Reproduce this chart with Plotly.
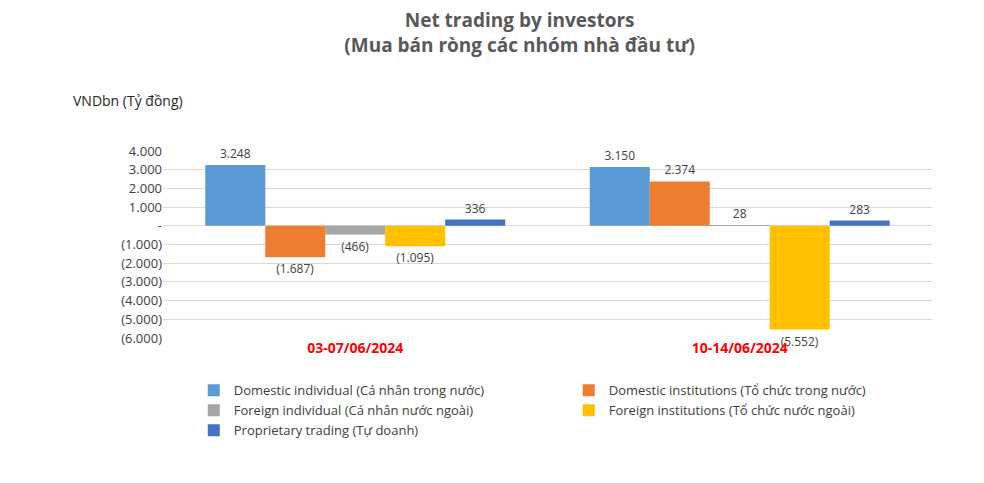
import plotly.graph_objects as go

periods = ["03-07/06/2024", "10-14/06/2024"]
series = [
    "Domestic individual (Cá nhân trong nước)",
    "Domestic institutions (Tổ chức trong nước)",
    "Foreign individual (Cá nhân nước ngoài)",
    "Foreign institutions (Tổ chức nước ngoài)",
    "Proprietary trading (Tự doanh)",
]
values = [
    [3248, 3150],
    [-1687, 2374],
    [-466, 28],
    [-1095, -5552],
    [336, 283],
]
colors = ["#5B9BD5", "#ED7D31", "#A5A5A5", "#FFC000", "#4472C4"]
tick_vals = [4000, 3000, 2000, 1000, 0, -1000, -2000, -3000, -4000, -5000, -6000]

def fmt(v):
    if v == 0:
        return "-"
    s = f"{abs(v):,}".replace(",", ".")
    return f"({s})" if v < 0 else s

fig = go.Figure()
for name, vals, c in zip(series, values, colors):
    fig.add_bar(x=periods, y=vals, name=name, marker=dict(color=c, line=dict(width=0)),
                text=[fmt(v) for v in vals], textposition="outside",
                textfont=dict(size=12, color="#404040"), cliponaxis=False)

fig.update_layout(
    width=984, height=483, plot_bgcolor="white", paper_bgcolor="white",
    font=dict(family="Open Sans", size=12, color="#404040"),
    title=dict(text="<b>Net trading by investors<br>(Mua bán ròng các nhóm nhà đầu tư)</b>",
               x=0.52, xanchor="center", y=0.96, font=dict(size=19, color="#595959")),
    margin=dict(l=155, r=60, t=143, b=153),
    barmode="group", bargap=0.22, bargroupgap=0,
    showlegend=True,
    legend=dict(orientation="h", x=0.04, y=-0.2, xanchor="left", yanchor="top",
                entrywidth=330, entrywidthmode="pixels",
                font=dict(size=13, color="#404040"), traceorder="normal"),
    annotations=[dict(text="VNDbn (Tỷ đồng)", xref="paper", yref="paper", x=-0.12, y=1.33,
                      xanchor="left", showarrow=False, font=dict(size=14, color="#262626"))],
)
fig.update_yaxes(range=[-6000, 4000], tickvals=tick_vals, ticktext=[fmt(v) for v in tick_vals],
                 showgrid=True, gridcolor="#D9D9D9", zeroline=False, tickfont=dict(size=13))
fig.update_xaxes(tickfont=dict(size=14, color="red", family="Open Sans"),
                 ticktext=[f"<b>{p}</b>" for p in periods], tickvals=periods, showline=False)
fig.write_html("out.html")
